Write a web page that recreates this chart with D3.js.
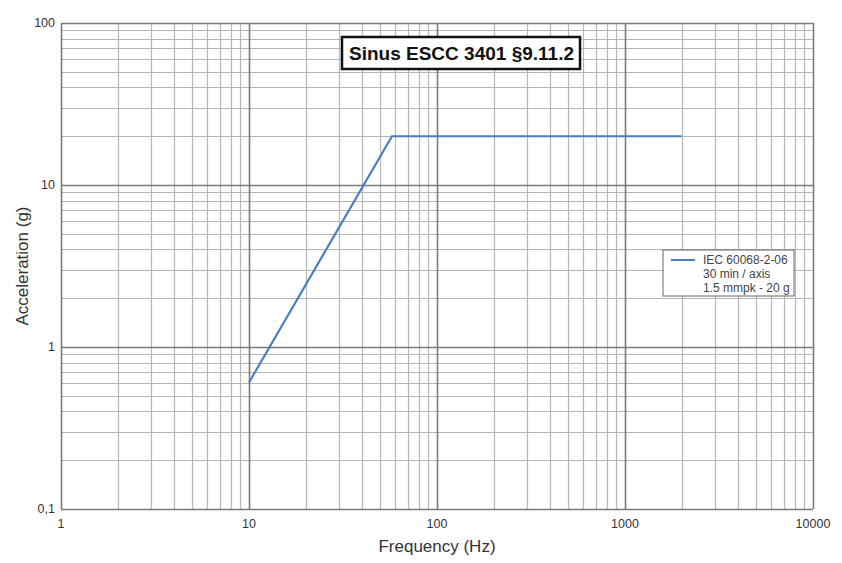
<html>
<style>
body { margin: 0; background: #fff; }
text { font-family: "Liberation Sans", Arial, sans-serif; }
</style>
<body>
<script src="https://cdnjs.cloudflare.com/ajax/libs/d3/7.8.5/d3.min.js"></script>
<script>

// sine sweep profile (Hz, g)
var freq = [10, 57.6, 2000];
var accel = [0.604, 20, 20];

var xTicks = [1, 10, 100, 1000, 10000];
var xTickLabels = ["1", "10", "100", "1000", "10000"];
var yTicks = [0.1, 1, 10, 100];
var yTickLabels = ["0,1", "1", "10", "100"];

var titleText = "Sinus ESCC 3401 §9.11.2";
var legendLines = ["IEC 60068-2-06", "30 min / axis", "1.5 mmpk - 20 g"];

var margin = {top: 23, right: 29, bottom: 54, left: 61},
    width = 842 - margin.left - margin.right,
    height = 563 - margin.top - margin.bottom;

var svg = d3.select("body").append("svg")
    .attr("width", 842)
    .attr("height", 563),
  g = svg.append("g").attr("transform", "translate(" + margin.left + "," + margin.top + ")");

var x = d3.scaleLog().domain([1, 10000]).range([0, width]);
var y = d3.scaleLog().domain([0.1, 100]).range([height, 0]);

// minor grid: 1..9 in every decade
var minorX = [], minorY = [];
for (var d = 1; d < 10000; d *= 10)
  for (var k = 2; k < 10; k++) minorX.push(d * k);
for (var d = 0.1; d < 100; d *= 10)
  for (var k = 2; k < 10; k++) minorY.push(d * k);

g.append("g").selectAll("line").data(minorX).enter().append("line")
    .attr("x1", function(d) { return Math.round(x(d)) + 0.5; })
    .attr("x2", function(d) { return Math.round(x(d)) + 0.5; })
    .attr("y1", 0).attr("y2", height)
    .attr("stroke", "#b6b6b6").attr("stroke-width", 1.2);

g.append("g").selectAll("line").data(minorY).enter().append("line")
    .attr("y1", function(d) { return Math.round(y(d)) + 0.5; })
    .attr("y2", function(d) { return Math.round(y(d)) + 0.5; })
    .attr("x1", 0).attr("x2", width)
    .attr("stroke", "#b6b6b6").attr("stroke-width", 1.2);

// major grid
g.append("g").selectAll("line").data(xTicks).enter().append("line")
    .attr("x1", function(d) { return Math.round(x(d)) + 0.5; })
    .attr("x2", function(d) { return Math.round(x(d)) + 0.5; })
    .attr("y1", 0).attr("y2", height)
    .attr("stroke", "#7a7a7a").attr("stroke-width", 1.6);

g.append("g").selectAll("line").data(yTicks).enter().append("line")
    .attr("y1", function(d) { return Math.round(y(d)) + 0.5; })
    .attr("y2", function(d) { return Math.round(y(d)) + 0.5; })
    .attr("x1", 0).attr("x2", width)
    .attr("stroke", "#7a7a7a").attr("stroke-width", 1.6);

// tick labels
g.append("g").selectAll("text").data(xTicks).enter().append("text")
    .attr("x", function(d) { return x(d); })
    .attr("y", height + 19)
    .attr("text-anchor", "middle")
    .attr("font-size", 12.5)
    .attr("fill", "#333")
    .text(function(d, i) { return xTickLabels[i]; });

g.append("g").selectAll("text").data(yTicks).enter().append("text")
    .attr("x", -6)
    .attr("y", function(d) { return y(d); })
    .attr("dy", "0.32em")
    .attr("text-anchor", "end")
    .attr("font-size", 12.5)
    .attr("fill", "#333")
    .text(function(d, i) { return yTickLabels[i]; });

// axis titles
svg.append("text")
    .attr("x", margin.left + width / 2)
    .attr("y", 552)
    .attr("text-anchor", "middle")
    .attr("font-size", 17)
    .attr("fill", "#333")
    .text("Frequency (Hz)");

svg.append("text")
    .attr("transform", "translate(28," + (margin.top + height / 2) + ") rotate(-90)")
    .attr("text-anchor", "middle")
    .attr("font-size", 17)
    .attr("fill", "#333")
    .text("Acceleration (g)");

// profile line
var line = d3.line()
    .x(function(d) { return x(d[0]); })
    .y(function(d) { return y(d[1]); });

g.append("path")
    .datum(d3.zip(freq, accel))
    .attr("fill", "none")
    .attr("stroke", "#4a7ebb")
    .attr("stroke-width", 2.2)
    .attr("d", line);

// title box
var title = svg.append("g");
title.append("rect")
    .attr("x", 342).attr("y", 37)
    .attr("width", 238).attr("height", 32)
    .attr("fill", "#fff")
    .attr("stroke", "#111")
    .attr("stroke-width", 2.5);
title.append("text")
    .attr("x", 461.5).attr("y", 60)
    .attr("text-anchor", "middle")
    .attr("font-size", 19)
    .attr("font-weight", "bold")
    .attr("fill", "#111")
    .text(titleText);

// legend
var legend = svg.append("g").attr("transform", "translate(663,250)");
legend.append("rect")
    .attr("width", 131).attr("height", 46)
    .attr("fill", "#fff")
    .attr("stroke", "#666")
    .attr("stroke-width", 1);
legend.append("line")
    .attr("x1", 8).attr("x2", 32)
    .attr("y1", 10).attr("y2", 10)
    .attr("stroke", "#4a7ebb")
    .attr("stroke-width", 2);
legend.selectAll("text.lg").data(legendLines).enter().append("text")
    .attr("class", "lg")
    .attr("x", 40)
    .attr("y", function(d, i) { return 10 + i * 14; })
    .attr("dy", "0.35em")
    .attr("font-size", 12)
    .attr("fill", "#444")
    .text(function(d) { return d; });

</script>
</body>
</html>
